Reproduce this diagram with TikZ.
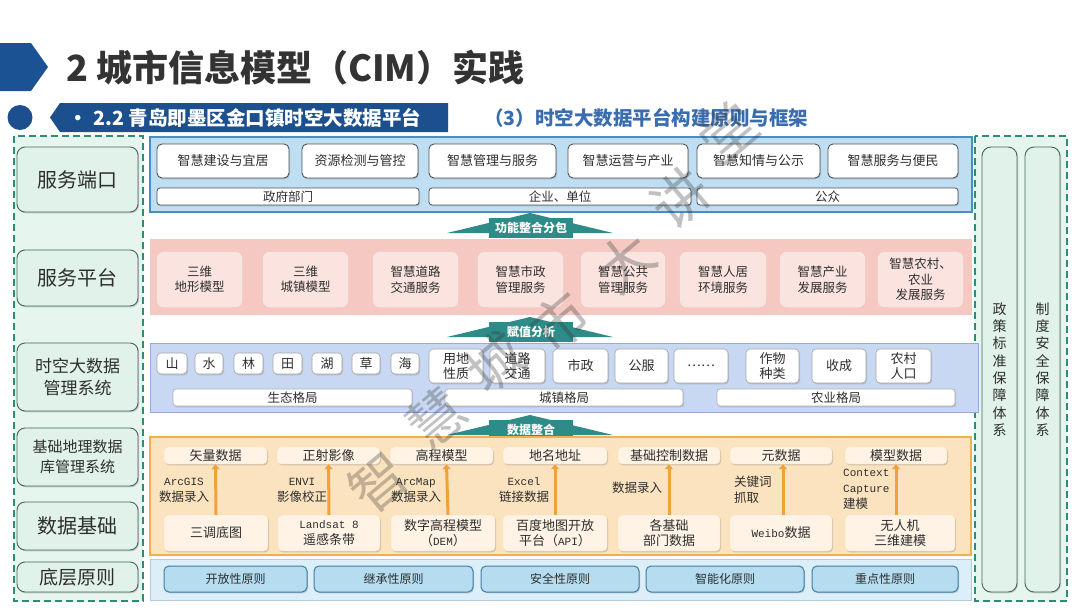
\documentclass[tikz,border=0pt]{standalone}
\usepackage{fontspec}
\setmainfont{Noto Sans CJK SC}
\newfontfamily\mono{Liberation Mono}
\usetikzlibrary{arrows.meta,shadows}
\definecolor{dblue}{HTML}{1B5294}
\definecolor{dblue2}{HTML}{1B4F8E}
\definecolor{sblue}{HTML}{3A6DB0}
\definecolor{tgray}{HTML}{333333}
\definecolor{txt}{HTML}{2E2E2E}
\definecolor{lgreen}{HTML}{E7F5EF}
\definecolor{lgbox}{HTML}{E0F2EA}
\definecolor{lgborder}{HTML}{44665F}
\definecolor{dashcol}{HTML}{2E8B76}
\definecolor{portfill}{HTML}{BFDEF2}
\definecolor{portdraw}{HTML}{4A8DC2}
\definecolor{btnborder}{HTML}{4A5560}
\definecolor{pinkfill}{HTML}{F5C8C2}
\definecolor{pinkbox}{HTML}{FBE4DF}
\definecolor{tsfill}{HTML}{C8D8F2}
\definecolor{tsdraw}{HTML}{94ACD8}
\definecolor{datafill}{HTML}{FCE3BF}
\definecolor{datadraw}{HTML}{F0B04E}
\definecolor{databox}{HTML}{FEF3E4}
\definecolor{orarrow}{HTML}{EFA23A}
\definecolor{teal1}{HTML}{2E8C88}
\definecolor{prfill}{HTML}{DCEEF8}
\definecolor{prbtn}{HTML}{B6DCF0}
\definecolor{prdraw}{HTML}{3E7FA8}
\newcommand\bx[7]{\node[#6, minimum width={(#4)-(#2)}, minimum height={(#5)-(#3)}, align=center] (#1) at ({((#2)+(#4))/2},{((#3)+(#5))/2}) {#7};}
\newcommand\roofarrow[4]{%
  \fill[teal1] (447,#2+15) -- (530,#2-5) -- (613,#2+15) -- cycle;
  \node[fill=teal1, minimum width=84, minimum height=20, text=white, font=\bfseries\fontsize{12}{14}\selectfont] (#1) at (531,#2+10) {#3};}
\tikzset{
  every node/.style={text=txt, inner sep=0pt},
  shd/.style={drop shadow={shadow xshift=1pt, shadow yshift=-1.3pt, opacity=0.35}},
  lbox/.style={draw=lgborder, fill=lgbox, rounded corners=8pt, line width=0.9pt, shd},
  pbtn/.style={draw=btnborder, fill=white, rounded corners=5pt, line width=0.9pt, shd, font=\fontsize{13}{15}\selectfont},
  pbar/.style={draw=btnborder, fill=white, rounded corners=3pt, line width=0.8pt, shd, font=\fontsize{12.5}{14}\selectfont},
  kbox/.style={fill=pinkbox, rounded corners=7pt, draw=pinkfill!80!black!20, line width=0.4pt, font=\fontsize{12.5}{15.5}\selectfont},
  tbtn/.style={draw=gray!70, fill=white, rounded corners=4pt, line width=0.6pt, shd, font=\fontsize{13}{15.5}\selectfont},
  dbox/.style={fill=databox, rounded corners=4pt, draw=datadraw!40, line width=0.4pt, shd, font=\fontsize{13}{15.5}\selectfont},
  dlbl/.style={font=\fontsize{12.5}{16}\selectfont},
  oarrow/.style={draw=orarrow, line width=3pt, -{Triangle[width=8pt,length=5pt]}},
  prb/.style={draw=prdraw, fill=prbtn, rounded corners=5pt, line width=1pt, shd, font=\fontsize{12}{14}\selectfont},
}
\begin{document}
\begin{tikzpicture}[x=1pt,y=-1pt]
\useasboundingbox[fill=white] (0,0) rectangle (1080,608);
% ---------- title ----------
\fill[dblue] (0,43) -- (31,43) -- (48,67) -- (31,91) -- (0,91) -- cycle;
\node[anchor=west, text=tgray, font=\bfseries\fontsize{36}{40}\selectfont] (title) at (66,68) {2 城市信息模型（CIM）实践};
\fill[dblue2] (20,117.5) circle[radius=12.5pt];
\fill[dblue2] (60,103) -- (448,103) -- (448,132) -- (60,132) -- (50,117.5) -- cycle;
\node[anchor=west, text=white, font=\bfseries\fontsize{19.5}{22}\selectfont] (sub) at (68,117.5) {•\hspace{6pt}2.2 青岛即墨区金口镇时空大数据平台};
\node[anchor=west, text=sblue, font=\bfseries\fontsize{19.5}{22}\selectfont] (sub2) at (484,118) {（3）时空大数据平台构建原则与框架};
% ---------- left column ----------
\draw[dashcol, line width=1.6pt, dash pattern=on 7pt off 4pt, fill=lgreen] (14,136) rectangle (143,601);
\bx{l1}{17}{147}{138}{212}{lbox, font=\fontsize{20}{24}\selectfont}{服务端口}
\bx{l2}{17}{250}{138}{306}{lbox, font=\fontsize{20}{24}\selectfont}{服务平台}
\bx{l3}{17}{343}{138}{411}{lbox, font=\fontsize{17}{22}\selectfont}{时空大数据\\管理系统}
\bx{l4}{17}{428}{138}{486}{lbox, font=\fontsize{15}{20}\selectfont}{基础地理数据\\库管理系统}
\bx{l5}{17}{502}{138}{550}{lbox, font=\fontsize{20}{24}\selectfont}{数据基础}
\bx{l6}{17}{562}{138}{592}{lbox, font=\fontsize{19}{22}\selectfont}{底层原则}
% ---------- right column ----------
\draw[dashcol, line width=1.6pt, dash pattern=on 7pt off 4pt, fill=lgreen] (975,136) rectangle (1067,601);
\bx{r1}{982}{147}{1017}{592}{lbox, rounded corners=9pt, font=\fontsize{14}{17.3}\selectfont}{政\\策\\标\\准\\保\\障\\体\\系}
\bx{r2}{1025}{147}{1060}{592}{lbox, rounded corners=9pt, font=\fontsize{14}{17.3}\selectfont}{制\\度\\安\\全\\保\\障\\体\\系}
% ---------- service port ----------
\draw[portdraw, fill=portfill, line width=1.2pt] (150,137) rectangle (972,212);
\bx{p1}{157}{144}{289}{178}{pbtn}{智慧建设与宜居}
\bx{p2}{302}{144}{418}{178}{pbtn}{资源检测与管控}
\bx{p3}{429}{144}{556}{178}{pbtn}{智慧管理与服务}
\bx{p4}{568}{144}{688}{178}{pbtn}{智慧运营与产业}
\bx{p5}{697}{144}{820}{178}{pbtn}{智慧知情与公示}
\bx{p6}{828}{144}{958}{178}{pbtn}{智慧服务与便民}
\bx{q1}{157}{188}{419}{205}{pbar}{政府部门}
\bx{q2}{429}{188}{691}{205}{pbar}{企业、单位}
\bx{q3}{697}{188}{958}{205}{pbar}{公众}
\roofarrow{a1}{218}{功能整合分包}{}
% ---------- service platform ----------
\fill[pinkfill] (150,239) rectangle (972,315);
\bx{s1}{157}{252}{242}{307}{kbox}{三维\\地形模型}
\bx{s2}{263}{252}{348}{307}{kbox}{三维\\城镇模型}
\bx{s3}{373}{252}{458}{307}{kbox}{智慧道路\\交通服务}
\bx{s4}{478}{252}{563}{307}{kbox}{智慧市政\\管理服务}
\bx{s5}{581}{252}{665}{307}{kbox}{智慧公共\\管理服务}
\bx{s6}{680}{252}{766}{307}{kbox}{智慧人居\\环境服务}
\bx{s7}{780}{252}{865}{307}{kbox}{智慧产业\\发展服务}
\bx{s8}{878}{252}{963}{307}{kbox}{智慧农村、\\农业\\发展服务}
\roofarrow{a2}{322}{赋值分析}{}
% ---------- spatio-temporal ----------
\draw[tsdraw, fill=tsfill, line width=0.8pt] (150,343) rectangle (978,412);
\bx{t1}{157}{353}{187}{374}{tbtn}{山}
\bx{t2}{195}{353}{223}{374}{tbtn}{水}
\bx{t3}{234}{353}{263}{374}{tbtn}{林}
\bx{t4}{273}{353}{302}{374}{tbtn}{田}
\bx{t5}{312}{353}{342}{374}{tbtn}{湖}
\bx{t6}{352}{353}{380}{374}{tbtn}{草}
\bx{t7}{391}{353}{419}{374}{tbtn}{海}
\bx{u1}{429}{349}{483}{383}{tbtn}{用地\\性质}
\bx{u2}{490}{349}{545}{383}{tbtn}{道路\\交通}
\bx{u3}{553}{349}{608}{383}{tbtn}{市政}
\bx{u4}{615}{349}{668}{383}{tbtn}{公服}
\bx{u5}{674}{349}{728}{383}{tbtn}{……}
\bx{u6}{746}{349}{799}{383}{tbtn}{作物\\种类}
\bx{u7}{812}{349}{866}{383}{tbtn}{收成}
\bx{u8}{876}{349}{931}{383}{tbtn}{农村\\人口}
\bx{v1}{173}{389}{412}{406}{pbar, draw=gray!60}{生态格局}
\bx{v2}{445}{389}{683}{406}{pbar, draw=gray!60}{城镇格局}
\bx{v3}{717}{389}{955}{406}{pbar, draw=gray!60}{农业格局}
\roofarrow{a3}{420}{数据整合}{}
% ---------- data base ----------
\draw[datadraw, fill=datafill, line width=1.2pt] (150,437) rectangle (971,555);
\bx{d1}{164}{447}{267}{464}{dbox}{矢量数据}
\bx{d2}{277}{447}{380}{464}{dbox}{正射影像}
\bx{d3}{390}{447}{493}{464}{dbox}{高程模型}
\bx{d4}{503}{447}{607}{464}{dbox}{地名地址}
\bx{d5}{618}{447}{720}{464}{dbox}{基础控制数据}
\bx{d6}{730}{447}{832}{464}{dbox}{元数据}
\bx{d7}{845}{447}{947}{464}{dbox}{模型数据}
\bx{e1}{164}{515}{268}{551}{dbox}{三调底图}
\bx{e2}{278}{515}{380}{551}{dbox}{{\mono\fontsize{11}{13}\selectfont Landsat 8}\\遥感条带}
\bx{e3}{391}{515}{495}{551}{dbox}{数字高程模型\\（{\mono\fontsize{11}{13}\selectfont DEM}）}
\bx{e4}{503}{515}{607}{551}{dbox}{百度地图开放\\平台（{\mono\fontsize{11}{13}\selectfont API}）}
\bx{e5}{618}{515}{720}{551}{dbox}{各基础\\部门数据}
\bx{e6}{730}{515}{832}{551}{dbox}{{\mono\fontsize{11}{13}\selectfont Weibo}数据}
\bx{e7}{845}{515}{955}{551}{dbox}{无人机\\三维建模}
\draw[oarrow] (e1.north) -- (d1.south);
\draw[oarrow] (e2.north) -- (d2.south);
\draw[oarrow] ([xshift=5pt]e3.north) -- ([xshift=5pt]d3.south);
\draw[oarrow] (e4.north) -- (d4.south);
\draw[oarrow] (e5.north) -- (d5.south);
\draw[oarrow] ([xshift=2pt]e6.north) -- ([xshift=2pt]d6.south);
\draw[oarrow] (e7.north -| d7.south) -- (d7.south);
\node[dlbl, align=center] (g1) at (184,490) {{\mono\fontsize{11}{13}\selectfont ArcGIS}\\数据录入};
\node[dlbl, align=center] (g2) at (302,490) {{\mono\fontsize{11}{13}\selectfont ENVI}\\影像校正};
\node[dlbl, align=center] (g3) at (416,490) {{\mono\fontsize{11}{13}\selectfont ArcMap}\\数据录入};
\node[dlbl, align=center] (g4) at (524,490) {{\mono\fontsize{11}{13}\selectfont Excel}\\链接数据};
\node[dlbl] (g5) at (637,488) {数据录入};
\node[dlbl, align=left, anchor=west] (g6) at (734,490) {关键词\\抓取};
\node[dlbl, align=left, anchor=west] (g7) at (843,489) {{\mono\fontsize{11}{13}\selectfont Context}\\{\mono\fontsize{11}{13}\selectfont Capture}\\建模};
% ---------- principles ----------
\draw[prdraw!40, fill=prfill, line width=0.8pt] (150,559) rectangle (971,600);
\bx{f1}{164}{566}{307}{592}{prb}{开放性原则}
\bx{f2}{314}{566}{473}{592}{prb}{继承性原则}
\bx{f3}{481}{566}{639}{592}{prb}{安全性原则}
\bx{f4}{646}{566}{804}{592}{prb}{智能化原则}
\bx{f5}{812}{566}{958}{592}{prb}{重点性原则}
% ---------- watermark ----------
\begin{scope}[opacity=0.3]
\foreach \c/\px/\py in {智/378/482, 慧/436/418, 城/495/362, 市/560/322, 大/625/262, 讲/680/198, 堂/728/132}
  \node[rotate=40, text=black!80, font=\fontsize{56}{60}\selectfont] at (\px,\py) {\c};
\end{scope}
\end{tikzpicture}
\end{document}
